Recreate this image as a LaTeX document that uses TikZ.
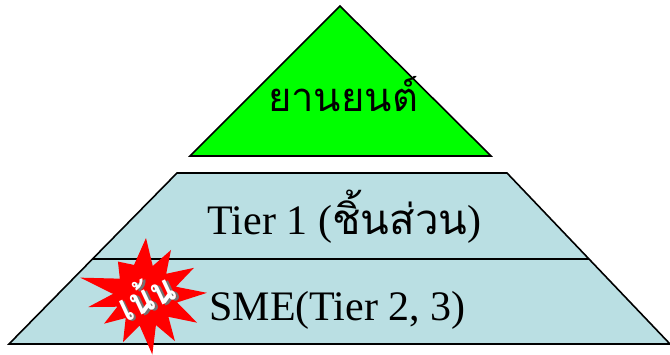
\documentclass[tikz,border=0pt]{standalone}
\usepackage{fontspec}
\setmainfont{Liberation Serif}
\newfontfamily\thaifont[Script=Thai]{Loma}
\definecolor{tierblue}{RGB}{186,223,227}
\definecolor{topgreen}{RGB}{0,255,0}
\definecolor{burstred}{RGB}{255,0,0}
\newcommand{\shadowtext}[1]{\makebox[0pt][l]{\kern1.8pt\raisebox{-1.8pt}{\textcolor{black!55}{#1}}}\textcolor{white}{#1}}
\tikzset{
  edge/.style={line width=1.6pt, black},
  bigtext/.style={font=\fontsize{42}{48}\selectfont, inner sep=0pt, anchor=base},
  thaitop/.style={font=\thaifont\fontsize{40}{46}\selectfont, inner sep=0pt, anchor=base},
  bursttext/.style={font=\thaifont\bfseries\fontsize{34}{38}\selectfont, rotate=25, yscale=1.15, inner sep=0pt},
}
\begin{document}
\begin{tikzpicture}[x=1pt,y=-1pt,line join=miter]
\useasboundingbox (0,0) rectangle (670,355);
% coordinates
\coordinate (tl) at (177,173);
\coordinate (tr) at (507,173);
\coordinate (br) at (670,344);
\coordinate (bl) at (9,344);
\coordinate (dl) at (92.5,259);
\coordinate (dr) at (589,259);
\coordinate (apex) at (340,6);
\coordinate (al) at (190,156);
\coordinate (ar) at (491,156);
% trapezoid
\fill[tierblue] (tl) -- (tr) -- (br) -- (bl) -- cycle;
\draw[edge] (tl) -- (tr) -- (br) -- (bl) -- cycle;
\draw[edge] (dl) -- (dr);
% triangle
\fill[topgreen] (apex) -- (ar) -- (al) -- cycle;
\draw[edge] (apex) -- (ar) -- (al) -- cycle;
% texts
\node[thaitop] (car) at (343,112) {ยานยนต์};
\node[bigtext] (tier1) at (344.5,235) {Tier 1 ({\thaifont ชิ้นส่วน})};
\node[bigtext] (sme) at (337.5,321) {SME(Tier 2, 3)};
% starburst
\begin{scope}[shift={(145,295)},x=1pt,y=1pt]
\fill[burstred] (89:57) -- (75:30) -- (60:52) -- (45:30) -- (29:56) -- (15:32) -- (2:62) -- (-13:33) -- (-28:59) -- (-43:32) -- (-57:55) -- (-70:32) -- (-83:60) -- (-100:31) -- (-115:52) -- (-130:30) -- (-145:50) -- (-157:30) -- (-168:58) -- (178:32) -- (165:67) -- (147:30) -- (129:43) -- (110:32) -- cycle;
\node[bursttext] (focus) at (1,-1) {\shadowtext{เน้น}};
\end{scope}
\end{tikzpicture}
\end{document}
